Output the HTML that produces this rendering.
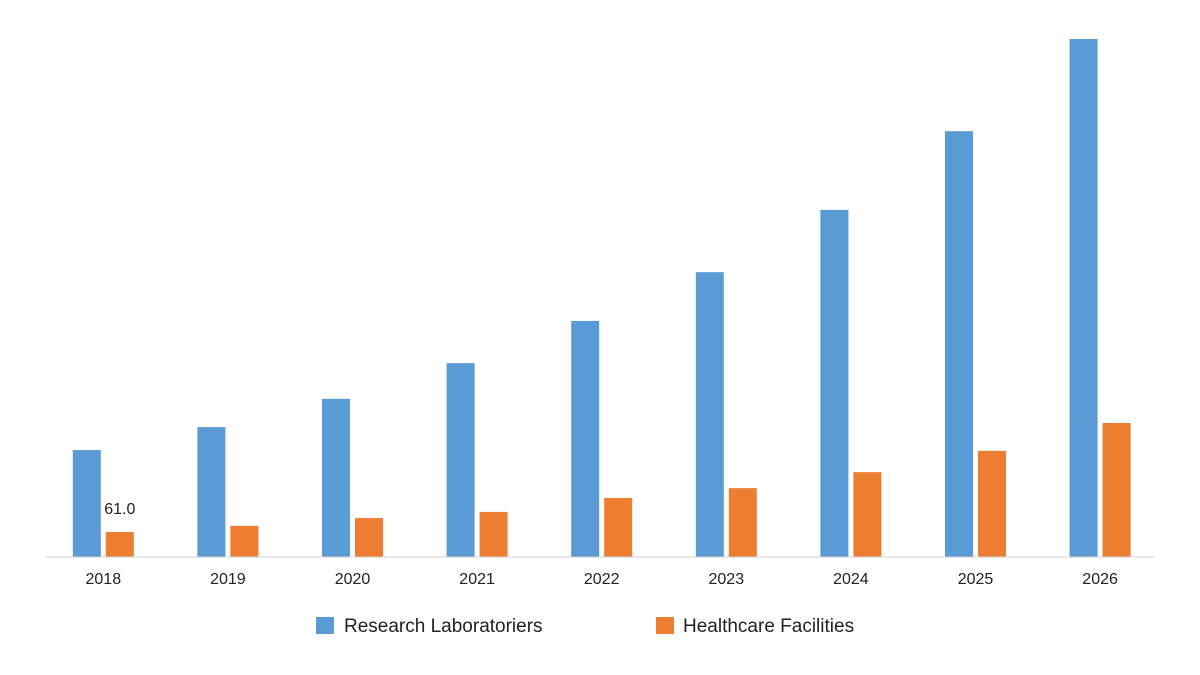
<!DOCTYPE html>
<html><head><meta charset="utf-8"><style>
html,body{margin:0;padding:0;background:#fff;}
svg{display:block;font-family:"Liberation Sans",sans-serif;}
</style></head><body>
<svg id="chart" width="1200" height="675" viewBox="0 0 1200 675" xmlns="http://www.w3.org/2000/svg">
<rect width="1200" height="675" fill="#fff"/>
<g id="bars"></g>
<line x1="45" y1="557" x2="1155" y2="557" stroke="#d0d0d0" stroke-width="1"/>
<g id="ticks"></g>
<g>
<g>
<rect x="316" y="617" width="18" height="17" fill="#5b9bd5"/>
<text x="344" y="632" font-size="19" fill="#222">Research Laboratoriers</text>
</g>
<g>
<rect x="656" y="617" width="18" height="17" fill="#ed7d31"/>
<text x="683" y="632" font-size="19" fill="#222">Healthcare Facilities</text>
</g>
</g>
</svg>
<script>
const categories = ["2018","2019","2020","2021","2022","2023","2024","2025","2026"];
const research = [261,317,386,473,576,695,847,1039,1264];
const healthcare = [61,76,95,110,144,168,207,259,327];
const shownLabels = ["61.0","","","","","","","",""];

const NS="http://www.w3.org/2000/svg";
const baseY=557, pxPerUnit=25/61;
const x0=41, step=124.6, barW=28, gap=5;
function yScale(v){return baseY - v*pxPerUnit;}
function xCenter(i){return x0 + step*(i+0.5);}
const bars=document.getElementById('bars');
const ticks=document.getElementById('ticks');
categories.forEach((c,i)=>{
  const cx=xCenter(i);
  const b=document.createElementNS(NS,'rect');
  b.setAttribute('x',cx-gap/2-barW);b.setAttribute('y',yScale(research[i]));
  b.setAttribute('width',barW);b.setAttribute('height',baseY-yScale(research[i]));
  b.setAttribute('fill','#5b9bd5');
  
  
  bars.appendChild(b);
  const o=document.createElementNS(NS,'rect');
  o.setAttribute('x',cx+gap/2);o.setAttribute('y',yScale(healthcare[i]));
  o.setAttribute('width',barW);o.setAttribute('height',baseY-yScale(healthcare[i]));
  o.setAttribute('fill','#ed7d31');
  
  
  bars.appendChild(o);
  if(shownLabels[i]){
    const l=document.createElementNS(NS,'text');
    l.setAttribute('x',cx+gap/2+barW/2);l.setAttribute('y',yScale(healthcare[i])-18);
    l.setAttribute('text-anchor','middle');l.setAttribute('font-size','16');l.setAttribute('fill','#222');
    l.textContent=shownLabels[i];
    
    
    bars.appendChild(l);
  }
  const t=document.createElementNS(NS,'text');
  t.setAttribute('x',cx);t.setAttribute('y',584);
  t.setAttribute('text-anchor','middle');t.setAttribute('font-size','16');t.setAttribute('fill','#222');
  t.textContent=c;
  
  
  ticks.appendChild(t);
});
</script>
</body></html>
